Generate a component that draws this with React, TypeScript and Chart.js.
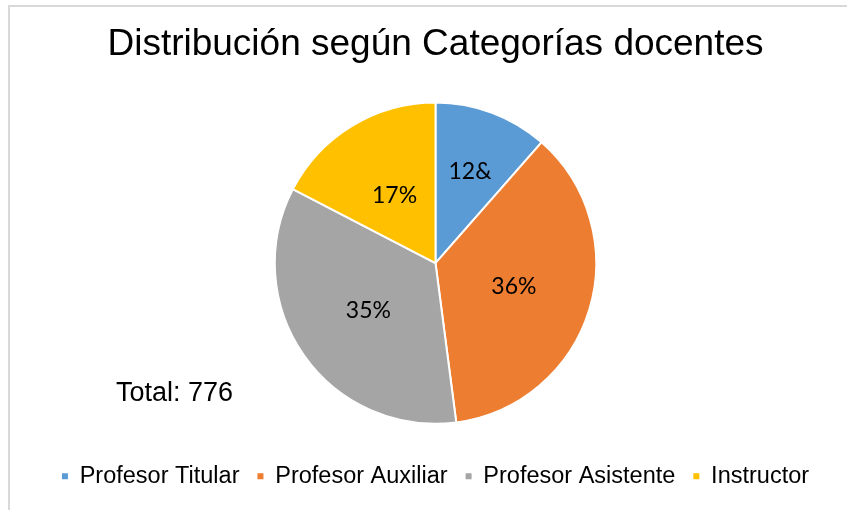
import React, { useEffect, useRef } from "react";
import { Chart, registerables } from "chart.js";

Chart.register(...registerables);

const categories = ["Profesor Titular", "Profesor Auxiliar", "Profesor Asistente", "Instructor"];
const counts = [89, 283, 269, 135];
const sliceLabels = ["12&", "36%", "35%", "17%"];
const colors = ["#5B9BD5", "#ED7D31", "#A5A5A5", "#FFC000"];
const titleText = "Distribución según Categorías docentes";
const totalText = "Total: 776";
const labelRadiusFractions = [0.61, 0.51, 0.51, 0.49];

const SANS = "'Liberation Sans', Arial, sans-serif";
const LABEL_FONT = "23px Lato, 'Open Sans', sans-serif";

const sliceLabelPlugin = {
  id: "sliceLabels",
  afterDatasetsDraw(chart: any) {
    const meta = chart.getDatasetMeta(0);
    const ctx = chart.ctx;
    ctx.save();
    ctx.font = LABEL_FONT;
    ctx.fillStyle = "#000";
    ctx.textAlign = "center";
    ctx.textBaseline = "middle";
    meta.data.forEach((arc: any, i: number) => {
      const { x, y, startAngle, endAngle, outerRadius } = arc.getProps(
        ["x", "y", "startAngle", "endAngle", "outerRadius"],
        true
      );
      const mid = (startAngle + endAngle) / 2;
      const r = outerRadius * labelRadiusFractions[i];
      ctx.fillText(sliceLabels[i], x + Math.cos(mid) * r, y + Math.sin(mid) * r);
    });
    ctx.restore();
  },
};

const totalPlugin = {
  id: "totalText",
  afterDraw(chart: any) {
    const ctx = chart.ctx;
    ctx.save();
    ctx.font = `27px ${SANS}`;
    ctx.fillStyle = "#000";
    ctx.textAlign = "left";
    ctx.textBaseline = "alphabetic";
    ctx.fillText(totalText, 116, 401);
    ctx.restore();
  },
};

export default function App() {
  const canvasRef = useRef<HTMLCanvasElement | null>(null);

  useEffect(() => {
    if (!canvasRef.current) return;
    const chart = new Chart(canvasRef.current, {
      type: "pie",
      data: {
        labels: categories,
        datasets: [
          {
            data: counts,
            backgroundColor: colors,
            borderColor: "#ffffff",
            borderWidth: 2,
          },
        ],
      },
      options: {
        responsive: false,
        animation: false,
        layout: { padding: { left: 24, right: 0, top: 0, bottom: 12 } },
        plugins: {
          title: {
            display: true,
            text: titleText,
            color: "#000",
            font: { family: SANS, size: 37, weight: "normal" },
            padding: { top: 23, bottom: 34 },
          },
          legend: {
            position: "bottom",
            title: {
              display: true,
              text: "",
              font: { size: 1 },
              padding: { top: 20.5, bottom: 0 },
            },
            labels: {
              boxWidth: 6,
              boxHeight: 6,
              padding: 18,
              color: "#000",
              font: { family: SANS, size: 23.5 },
              generateLabels: (c: any) => {
                const items = (Chart as any).overrides.pie.plugins.legend.labels.generateLabels(c);
                return items.map((it: any) => ({ ...it, lineWidth: 0, strokeStyle: it.fillStyle }));
              },
            },
          },
          tooltip: { enabled: false },
        },
      } as any,
      plugins: [sliceLabelPlugin, totalPlugin],
    });
    return () => chart.destroy();
  }, []);

  return (
    <div
      style={{
        position: "fixed",
        left: 0,
        top: 0,
        width: 847,
        height: 510,
        background: "#fff",
        overflow: "hidden",
      }}
    >
      <div
        style={{
          position: "absolute",
          left: 8,
          top: 5,
          width: 900,
          height: 600,
          borderLeft: "2px solid #d9d9d9",
          borderTop: "2px solid #d9d9d9",
        }}
      />
      <canvas
        ref={canvasRef}
        width={847}
        height={510}
        style={{ position: "absolute", left: 0, top: 0, width: 847, height: 510 }}
      />
    </div>
  );
}
